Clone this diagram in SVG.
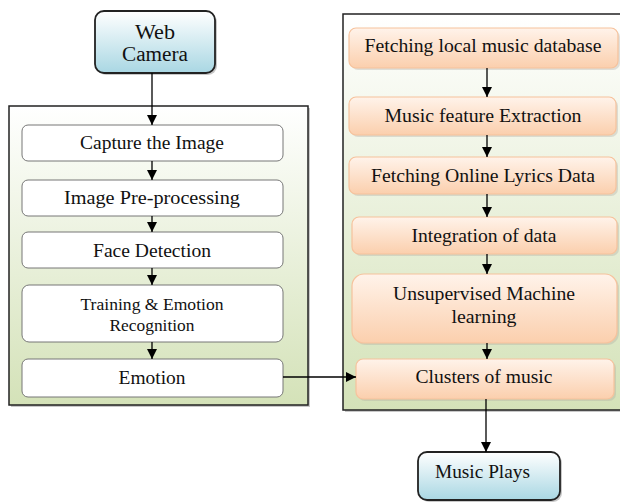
<svg xmlns="http://www.w3.org/2000/svg" width="620" height="502" viewBox="0 0 620 502">
<defs>
<linearGradient id="gBlue" x1="0" y1="0" x2="0" y2="1"><stop offset="0" stop-color="#ffffff"/><stop offset="1" stop-color="#a9d7e3"/></linearGradient>
<linearGradient id="gGreen" x1="0" y1="0" x2="0" y2="1"><stop offset="0" stop-color="#ffffff"/><stop offset="1" stop-color="#d4e2b8"/></linearGradient>
<linearGradient id="gOrange" x1="0" y1="0" x2="0" y2="1"><stop offset="0" stop-color="#fff3ea"/><stop offset="1" stop-color="#fbcfad"/></linearGradient>
<marker id="arr" viewBox="0 0 10 10" refX="10" refY="5" markerWidth="10" markerHeight="10" markerUnits="userSpaceOnUse" orient="auto"><path d="M0,0 L10,5 L0,10 z" fill="#000"/></marker>
</defs>
<style>
text{font-family:"Liberation Serif","Times New Roman",serif;fill:#111;text-anchor:middle}
.outer{stroke:#222;stroke-width:1.5}
.shadow{fill:#9a9a9a;opacity:0.55}
.wbox{fill:#fff;stroke:#777;stroke-width:1}
.obox{fill:url(#gOrange);stroke:#f6c29c;stroke-width:1.2}
.oshadow{fill:#b0a8a0;opacity:0.35}
.term{fill:url(#gBlue);stroke:#222;stroke-width:1.8}
.c{fill:none;stroke:#000;stroke-width:1.3;marker-end:url(#arr)}
</style>
<rect width="620" height="502" fill="#fff"/>

<g id="web-camera">
<rect x="97" y="13" width="120" height="62" rx="9" class="shadow"/>
<rect x="95" y="11" width="120" height="62" rx="9" class="term"/>
<text x="155" y="39" font-size="20" textLength="40" lengthAdjust="spacingAndGlyphs">Web</text>
<text x="155" y="61" font-size="20" textLength="66" lengthAdjust="spacingAndGlyphs">Camera</text>
</g>

<g id="left-container">
<rect x="11" y="108" width="299" height="299" class="shadow"/>
<rect x="9" y="106" width="299" height="299" fill="url(#gGreen)" class="outer"/>
</g>

<g id="capture">
<rect x="22" y="125" width="261" height="36" rx="6" class="wbox"/>
<text x="152" y="149" font-size="18.5" textLength="144" lengthAdjust="spacingAndGlyphs">Capture the Image</text>
</g>
<g id="preprocess">
<rect x="22" y="180" width="261" height="36" rx="6" class="wbox"/>
<text x="152" y="204" font-size="18.5" textLength="176" lengthAdjust="spacingAndGlyphs">Image Pre-processing</text>
</g>
<g id="face-detection">
<rect x="22" y="232" width="261" height="36" rx="6" class="wbox"/>
<text x="152" y="257" font-size="18.5" textLength="118" lengthAdjust="spacingAndGlyphs">Face Detection</text>
</g>
<g id="training">
<rect x="22" y="285" width="261" height="57" rx="7" class="wbox"/>
<text x="152" y="310" font-size="17.5" textLength="143" lengthAdjust="spacingAndGlyphs">Training &amp; Emotion</text>
<text x="152" y="331" font-size="17.5" textLength="85" lengthAdjust="spacingAndGlyphs">Recognition</text>
</g>
<g id="emotion">
<rect x="22" y="359" width="261" height="38" rx="6" class="wbox"/>
<text x="152" y="384" font-size="18.5" textLength="67" lengthAdjust="spacingAndGlyphs">Emotion</text>
</g>

<g id="right-container">
<rect x="345" y="16" width="290" height="396" class="shadow"/>
<rect x="343" y="14" width="290" height="396" fill="url(#gGreen)" class="outer"/>
</g>

<g id="fetch-local">
<rect x="351" y="30" width="269" height="40" rx="7" class="oshadow"/>
<rect x="349" y="28" width="269" height="40" rx="7" class="obox"/>
<text x="483" y="52" font-size="18.5" textLength="237" lengthAdjust="spacingAndGlyphs">Fetching local music database</text>
</g>
<g id="feature-extraction">
<rect x="351" y="99" width="267" height="38" rx="7" class="oshadow"/>
<rect x="349" y="97" width="267" height="38" rx="7" class="obox"/>
<text x="483" y="122" font-size="18.5" textLength="197" lengthAdjust="spacingAndGlyphs">Music feature Extraction</text>
</g>
<g id="lyrics">
<rect x="351" y="159" width="267" height="37" rx="7" class="oshadow"/>
<rect x="349" y="157" width="267" height="37" rx="7" class="obox"/>
<text x="483" y="182" font-size="18.5" textLength="224" lengthAdjust="spacingAndGlyphs">Fetching Online Lyrics Data</text>
</g>
<g id="integration">
<rect x="354" y="219" width="265" height="37" rx="7" class="oshadow"/>
<rect x="352" y="217" width="265" height="37" rx="7" class="obox"/>
<text x="484" y="242" font-size="18.5" textLength="145" lengthAdjust="spacingAndGlyphs">Integration of data</text>
</g>
<g id="unsupervised">
<rect x="354" y="276" width="265" height="69" rx="12" class="oshadow"/>
<rect x="352" y="274" width="265" height="69" rx="12" class="obox"/>
<text x="484" y="300" font-size="18.5" textLength="182" lengthAdjust="spacingAndGlyphs">Unsupervised Machine</text>
<text x="484" y="323" font-size="18.5" textLength="65" lengthAdjust="spacingAndGlyphs">learning</text>
</g>
<g id="clusters">
<rect x="358" y="361" width="258" height="40" rx="7" class="oshadow"/>
<rect x="356" y="359" width="258" height="40" rx="7" class="obox"/>
<text x="484" y="383" font-size="18.5" textLength="137" lengthAdjust="spacingAndGlyphs">Clusters of music</text>
</g>

<g id="music-plays">
<rect x="420" y="454" width="142" height="48" rx="9" class="shadow"/>
<rect x="418" y="452" width="142" height="48" rx="9" class="term"/>
<text x="482.5" y="478" font-size="18" textLength="95" lengthAdjust="spacingAndGlyphs">Music Plays</text>
</g>

<g id="connectors">
<line x1="152" y1="73" x2="152" y2="125" class="c"/>
<line x1="152" y1="161" x2="152" y2="180" class="c"/>
<line x1="152" y1="216" x2="152" y2="232" class="c"/>
<line x1="152" y1="268" x2="152" y2="285" class="c"/>
<line x1="152" y1="342" x2="152" y2="359" class="c"/>
<line x1="283" y1="377" x2="356" y2="377" class="c"/>
<line x1="487" y1="68" x2="487" y2="97" class="c"/>
<line x1="487" y1="135" x2="487" y2="157" class="c"/>
<line x1="487" y1="194" x2="487" y2="217" class="c"/>
<line x1="487" y1="254" x2="487" y2="274" class="c"/>
<line x1="487" y1="343" x2="487" y2="359" class="c"/>
<line x1="486" y1="399" x2="486" y2="452" class="c"/>
</g>
</svg>
